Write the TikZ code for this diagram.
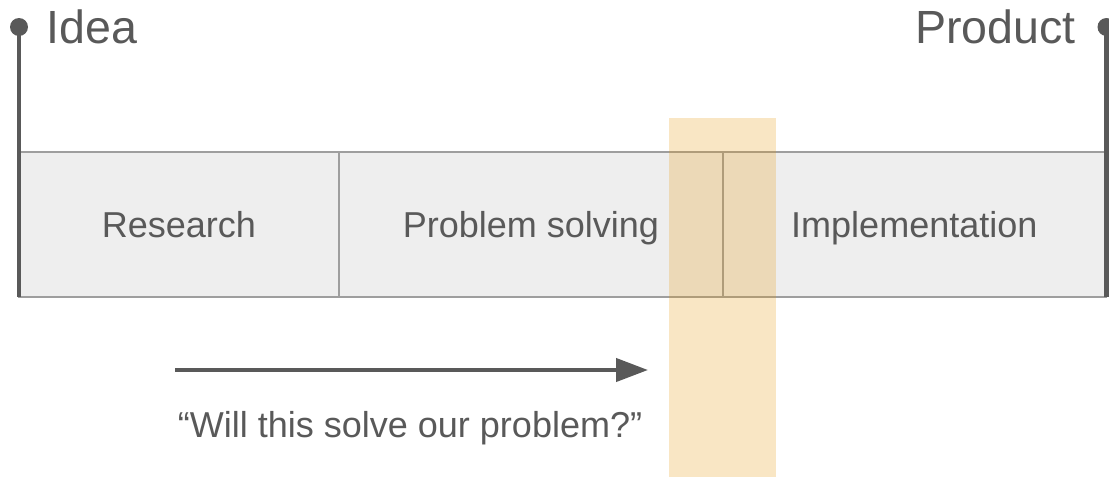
\documentclass[tikz,border=0pt]{standalone}
\usepackage{fontspec}
\setmainfont{Liberation Sans}
\usepackage{xcolor}
\usetikzlibrary{arrows.meta,positioning}

\definecolor{ink}{HTML}{595959}
\definecolor{rule}{HTML}{9E9E9E}
\definecolor{cellfill}{HTML}{EEEEEE}
\definecolor{amber}{RGB}{232,152,10}

\begin{document}
\begin{tikzpicture}[x=0.02cm, y=-0.02cm,
    cell/.style={draw=rule, line width=1.1pt, fill=cellfill, minimum height=2.9cm,
        inner sep=0pt, outer sep=0pt, text height=14.7pt, text depth=0pt,
        text=ink, font=\fontsize{20.5}{24}\selectfont},
    rail/.style={draw=ink, line width=2.3pt},
    label/.style={text=ink, inner sep=0pt, font=\fontsize{26.5}{30}\selectfont}]
    \useasboundingbox (0,0) rectangle (1109,477);

    % the three stages
    \node[cell, minimum width=6.4cm, anchor=north west] (research) at (19,152) {Research};
    \node[cell, minimum width=7.68cm, right=0pt of research] (solving) {Problem solving};
    \node[cell, minimum width=7.66cm, right=0pt of solving] (impl) {Implementation};

    % start and end rails
    \coordinate (start) at (19,27);
    \coordinate (finish) at (1106.5,27);
    \draw[rail] (start) -- (start |- research.south);
    \draw[rail] (finish) -- (finish |- impl.south);
    \fill[ink] (start) circle (9);
    \fill[ink] (finish) circle (9);
    \node[label, anchor=base west] (idea) at (46,43) {Idea};
    \node[label, anchor=base east] (product) at (1076,43) {Product};

    % question arrow
    \coordinate (q0) at (175,370);
    \coordinate (q1) at (648,370);
    \draw[draw=ink, line width=2.4pt, -{Triangle[length=0.64cm, width=0.46cm]}] (q0) -- (q1);
    \node[text=ink, inner sep=0pt, anchor=base, font=\fontsize{20.5}{24}\selectfont] (quote) at (410,437) {“Will this solve our problem?”};

    % highlighted band
    \fill[amber, opacity=0.24] (669,118) rectangle (776,477);
\end{tikzpicture}
\end{document}
